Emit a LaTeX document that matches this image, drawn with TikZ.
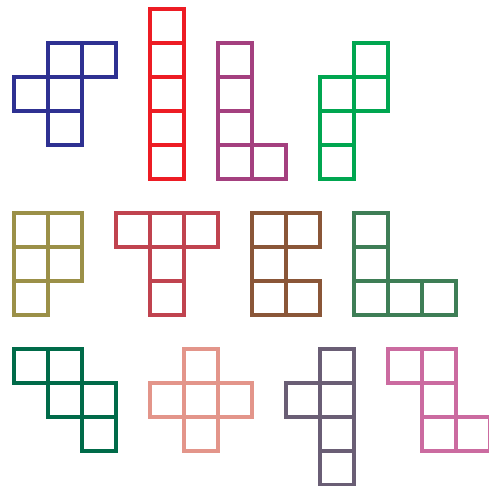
\documentclass[tikz,border=0pt]{standalone}
\definecolor{cF}{HTML}{2E3192}
\definecolor{cI}{HTML}{ED1C24}
\definecolor{cL}{HTML}{A4407F}
\definecolor{cN}{HTML}{00A650}
\definecolor{cP}{HTML}{9B9048}
\definecolor{cT}{HTML}{C0434F}
\definecolor{cU}{HTML}{8A5638}
\definecolor{cV}{HTML}{3E7E56}
\definecolor{cW}{HTML}{006B49}
\definecolor{cX}{HTML}{E3958A}
\definecolor{cY}{HTML}{6A5E75}
\definecolor{cZ}{HTML}{CB6BA0}
\newcommand\pentpiece[2]{\foreach \c/\r in {#2} \draw[sq,#1] ({14+34*\c},{9+34*\r}) rectangle ++(34,34);}
\begin{document}
\begin{tikzpicture}[x=1pt,y=-1pt, sq/.style={line width=3.3pt, line join=miter}]
\useasboundingbox (0,0) rectangle (489,486);
\pentpiece{cF}{1/1,2/1,0/2,1/2,1/3}
\pentpiece{cI}{4/0,4/1,4/2,4/3,4/4}
\pentpiece{cL}{6/1,6/2,6/3,6/4,7/4}
\pentpiece{cN}{10/1,9/2,10/2,9/3,9/4}
\pentpiece{cP}{0/6,1/6,0/7,1/7,0/8}
\pentpiece{cT}{3/6,4/6,5/6,4/7,4/8}
\pentpiece{cU}{7/6,8/6,7/7,7/8,8/8}
\pentpiece{cV}{10/6,10/7,10/8,11/8,12/8}
\pentpiece{cW}{0/10,1/10,1/11,2/11,2/12}
\pentpiece{cX}{5/10,4/11,5/11,6/11,5/12}
\pentpiece{cY}{9/10,8/11,9/11,9/12,9/13}
\pentpiece{cZ}{11/10,12/10,12/11,12/12,13/12}
\end{tikzpicture}
\end{document}
